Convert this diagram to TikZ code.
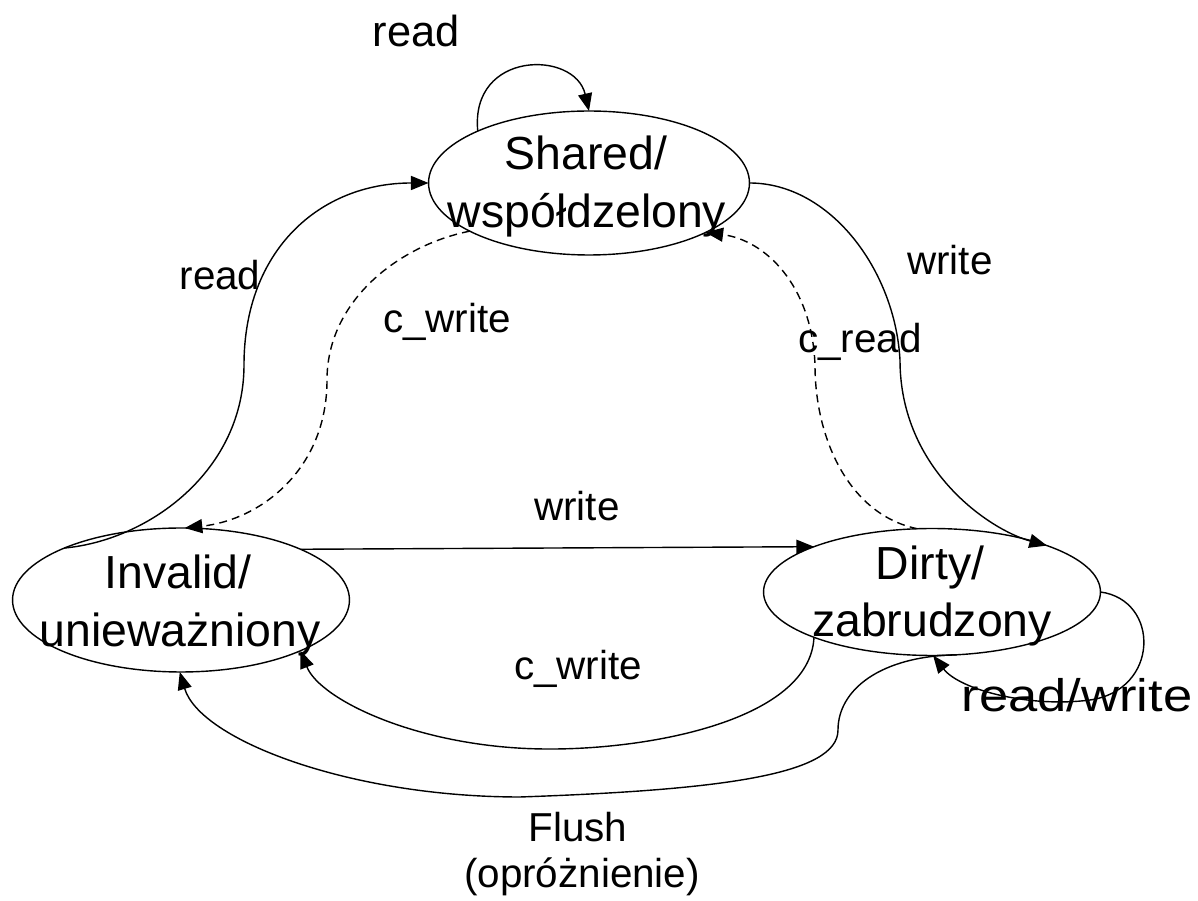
\documentclass[tikz,border=0pt]{standalone}
\usepackage{fontspec}
\setmainfont{Liberation Sans}
\usetikzlibrary{shapes.geometric,arrows.meta}
\begin{document}
\begin{tikzpicture}[x=0.02cm,y=-0.02cm,
  state/.style={draw,ellipse,line width=0.8pt,inner sep=0pt,outer sep=0pt},
  stxt/.style={anchor=base,inner sep=0pt,font=\fontsize{26.4}{32}\selectfont},
  lbl/.style={anchor=base,inner sep=0pt,font=\fontsize{23}{28}\selectfont},
  conn/.style={line width=0.8pt,-{Triangle[length=10pt,width=8pt]}},
  dsh/.style={conn,dash pattern=on 4.5pt off 3pt}]
\useasboundingbox (0,0) rectangle (1198,901);
% states
\node[state,minimum width=6.42cm,minimum height=2.88cm] (S) at (589,183) {};
\node[state,minimum width=6.74cm,minimum height=2.88cm] (I) at (181,600) {};
\node[state,minimum width=6.74cm,minimum height=2.54cm] (D) at (932,592) {};
\node[stxt] (S1) at (586,170) {Shared/};
\node[stxt] (S2) at (587,228) {współdzelony};
\node[stxt] (I1) at (178,589) {Invalid/};
\node[stxt] (I2) at (180,647) {unieważniony};
\node[stxt] (D1) at (930,580) {Dirty/};
\node[stxt] (D2) at (932,637) {zabrudzony};
% labels
\node[anchor=base,inner sep=0pt,font=\fontsize{24.7}{30}\selectfont] (lr0) at (416,47) {read};
\node[lbl] (lr1) at (220,290) {read};
\node[lbl] (lcw1) at (447,333) {c\_write};
\node[lbl] (lw1) at (950,275) {write};
\node[lbl] (lcr) at (860,353) {c\_read};
\node[lbl] (lw2) at (577,521) {write};
\node[lbl] (lcw2) at (578,680) {c\_write};
\node[lbl] (lf1) at (578,842) {Flush};
\node[lbl] (lf2) at (582,888) {(opróżnienie)};
\node[anchor=base,inner sep=0pt,font=\fontsize{26}{31}\selectfont] (lrw) at (1077,712) {\scalebox{1.15}[1]{read/write}};
% connectors
\draw[conn] (S.155.7) .. controls (470,50) and (575,50) .. (S.90);
\draw[conn] (I.156) .. controls (150,540) and (244,470) .. (244,365)
   .. controls (244,250) and (320,183) .. (S.180);
\draw[dsh] (S.202) .. controls (400,245) and (327,300) .. (327,380)
   .. controls (327,470) and (260,520) .. (I.87);
\draw[conn] (S.0) .. controls (830,183) and (895,270) .. (900,360)
   .. controls (900,470) and (990,530) .. (D.22);
\draw[dsh] (D.103) .. controls (850,515) and (815,440) .. (815,365)
   .. controls (812,285) and (765,240) .. (S.-23);
\draw[conn] (I.23) -- (D.159);
\draw[conn] (D.201) .. controls (810,720) and (650,750) .. (545,749)
   .. controls (420,748) and (320,700) .. (I.-23);
\draw[conn] (D.-68) .. controls (880,656) and (838,690) .. (838,730)
   .. controls (838,775) and (720,790) .. (520,797)
   .. controls (350,797) and (200,740) .. (I.-91);
\draw[conn] (D.0) .. controls (1160,600) and (1160,690) .. (1090,700)
   .. controls (1030,708) and (960,690) .. (D.-89);
\end{tikzpicture}
\end{document}
